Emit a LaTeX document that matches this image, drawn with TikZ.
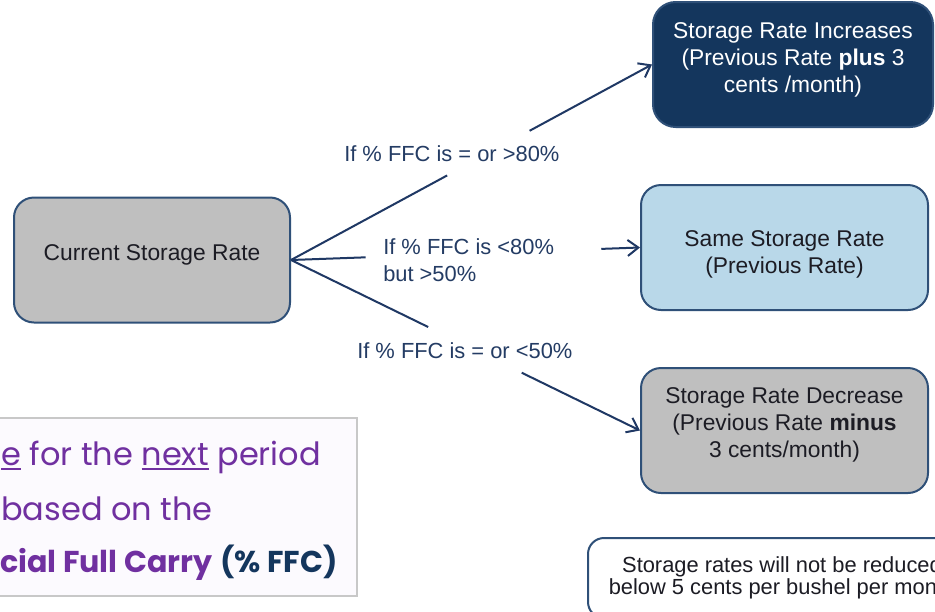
\documentclass[tikz,border=0pt]{standalone}
\usepackage{fontspec}
\setmainfont{Liberation Sans}
\newfontfamily\gothic{Poppins}
\usetikzlibrary{arrows.meta,calc}

\definecolor{edgeblue}{RGB}{47,80,120}
\definecolor{linenavy}{RGB}{31,56,100}
\definecolor{navyfill}{RGB}{20,54,93}
\definecolor{paleblue}{RGB}{185,216,233}
\definecolor{greyfill}{RGB}{191,191,191}
\definecolor{inktext}{RGB}{28,28,36}
\definecolor{labeltext}{RGB}{36,60,100}
\definecolor{purpletext}{RGB}{112,48,160}
\definecolor{captionbg}{RGB}{252,250,254}
\definecolor{captionedge}{RGB}{200,200,200}

% underline with a rule that suits the large caption type
\newcommand\thickul[1]{\setbox0=\hbox{#1}\rlap{\rule[-3.6pt]{\wd0}{1.6pt}}\box0\relax}

\tikzset{
  ratebox/.style={draw=edgeblue, line width=1.5pt, rounded corners=15pt,
    minimum height=93.75pt, inner sep=0pt},
  boxtext/.style={align=center, text=inktext, inner sep=0pt,
    font=\fontsize{17.1}{20.3}\selectfont},
  cond/.style={text=labeltext, font=\fontsize{16.4}{20.5}\selectfont,
    inner sep=0pt, align=left},
  link/.style={draw=linenavy, line width=1.5pt},
  linkarrow/.style={link, -{Straight Barb[length=8pt,width=12pt,line width=1.5pt]}},
  captiontext/.style={text=purpletext, inner sep=0pt,
    font=\gothic\fontsize{24}{30}\selectfont},
}

\begin{document}
\begin{tikzpicture}[x=0.75pt, y=-0.75pt]
  \useasboundingbox (0,0) rectangle (935,611);
  \clip (0,0) rectangle (935,611);
  \fill[white] (0,0) rectangle (935,611);

  % caption panel on the left, running off the edge
  \draw[fill=captionbg, draw=captionedge, line width=0.8pt]
    (-20,418) rectangle (357,596);
  \node[captiontext, anchor=base west] (cap1) at (1,465)
    {\thickul{e} for the \thickul{next} period};
  \node[captiontext, anchor=base west] (cap2) at (1,520) {based on the};
  \node[captiontext, anchor=base west, font=\gothic\fontsize{22.6}{30}\selectfont]
    (cap3) at (0,572)
    {\textbf{cial Full Carry} \textcolor{navyfill}{\textbf{(\% FFC)}}};

  % rate boxes
  \node[ratebox, fill=greyfill, minimum width=207pt] (cur) at (152,260) {};
  \node[ratebox, fill=navyfill, minimum width=210pt, rounded corners=17pt]
    (inc) at (793,64.5) {};
  \node[ratebox, fill=paleblue, minimum width=215.25pt] (same) at (784.5,247.5) {};
  \node[ratebox, fill=greyfill, minimum width=215.25pt] (dec) at (784.5,430.5) {};

  % box captions
  \node[boxtext] (curText) at ($(cur.center)+(0,-5)$) {Current Storage Rate};
  \node[boxtext, text=white] (incText) at ($(inc.center)+(0,-5)$)
    {Storage Rate Increases\\(Previous Rate \textbf{plus} 3\\cents /month)};
  \node[boxtext] (sameText) at ($(same.center)+(0,7)$)
    {Same Storage Rate\\(Previous Rate)};
  \node[boxtext] (decText) at ($(dec.center)+(0,-6)$)
    {Storage Rate Decrease\\(Previous Rate \textbf{minus}\\3 cents/month)};

  % note box at the bottom right
  \node[draw=edgeblue, line width=1.5pt, rounded corners=12pt, fill=white,
        minimum width=291pt, minimum height=60pt, inner sep=0pt,
        align=center, text=inktext, font=\fontsize{16.4}{16.5}\selectfont]
    (note) at (782,578)
    {Storage rates will not be reduced\\below 5 cents per bushel per month};

  % split points along each connector, leaving room for the condition text
  \coordinate (upA) at ($(cur.east)!0.4325!(inc.west)$);
  \coordinate (upB) at ($(cur.east)!0.661!(inc.west)$);
  \coordinate (midA) at ($(cur.east)!0.214!(same.west)$);
  \coordinate (midB) at ($(cur.east)!0.889!(same.west)$);
  \coordinate (lowA) at ($(cur.east)!0.393!(dec.west)$);
  \coordinate (lowB) at ($(cur.east)!0.661!(dec.west)$);

  \draw[link] (cur.east) -- (upA);
  \draw[linkarrow] (upB) -- (inc.west);
  \draw[link] (cur.east) -- (midA);
  \draw[linkarrow] (midB) -- (same.west);
  \draw[link] (cur.east) -- (lowA);
  \draw[linkarrow] (lowB) -- (dec.west);

  % condition labels
  \node[cond, anchor=base west] (condUp) at (344,161) {If \% FFC is = or >80\%};
  \node[cond, anchor=west] (condMid) at (383,260.5) {If \% FFC is <80\%\\but >50\%};
  \node[cond, anchor=base west] (condLow) at (357,358) {If \% FFC is = or <50\%};
\end{tikzpicture}
\end{document}
